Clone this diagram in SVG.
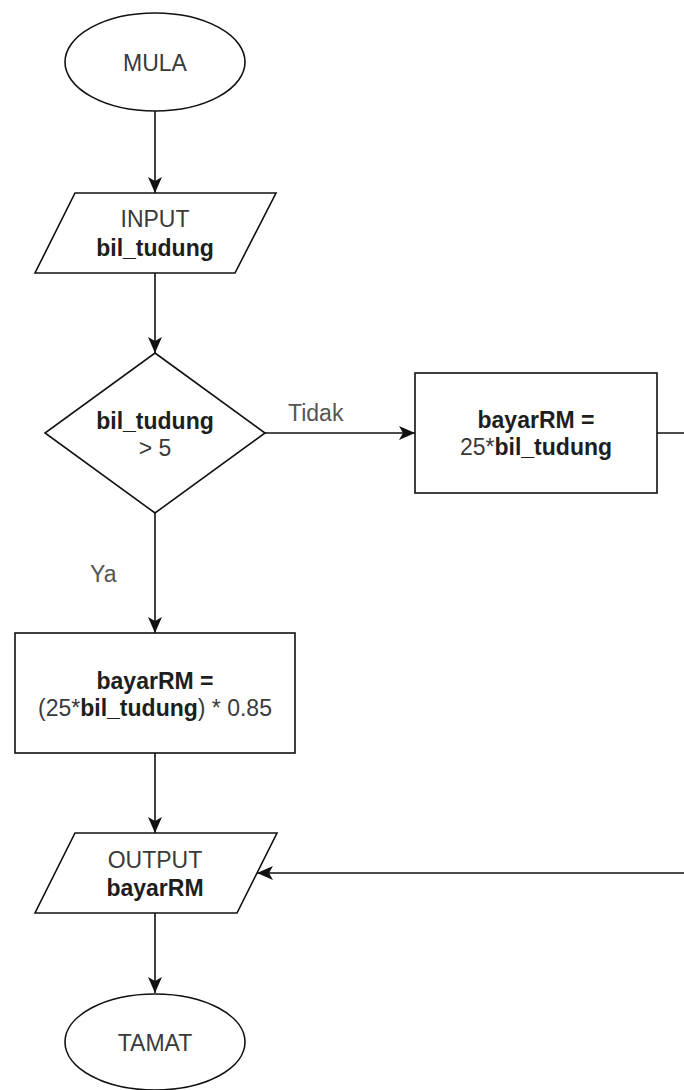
<svg xmlns="http://www.w3.org/2000/svg" width="684" height="1090" viewBox="0 0 684 1090">
<style>
.shape{fill:#ffffff;stroke:#111111;stroke-width:1.6}
.edge{fill:none;stroke:#111111;stroke-width:1.6}
text{font-family:"Liberation Sans",Arial,Helvetica,sans-serif;font-size:23px;text-anchor:middle;fill:#3a3a3a}
.b{font-weight:bold;fill:#1e1e1e}
.lbl{fill:#555555;text-anchor:start}
</style>
<defs>
<marker id="arr" markerUnits="userSpaceOnUse" markerWidth="16" markerHeight="14" viewBox="0 0 16 14" refX="16" refY="7" orient="auto">
<path d="M0,0 L16,7 L0,14 L4,7 Z" fill="#111111"/>
</marker>
</defs>
<rect width="684" height="1090" fill="#ffffff"/>
<g id="connectors">
<path class="edge" d="M155,111 V193" marker-end="url(#arr)"/>
<path class="edge" d="M155,273 V353" marker-end="url(#arr)"/>
<path class="edge" d="M265,433 H415" marker-end="url(#arr)"/>
<path class="edge" d="M155,513 V633" marker-end="url(#arr)"/>
<path class="edge" d="M155,753 V833" marker-end="url(#arr)"/>
<path class="edge" d="M155,913 V993" marker-end="url(#arr)"/>
<path class="edge" d="M657,433 H694 V873 H257" marker-end="url(#arr)"/>
<text class="lbl" x="288" y="421">Tidak</text>
<text class="lbl" x="90" y="582">Ya</text>
</g>
<g id="mula">
<ellipse class="shape" cx="155" cy="62" rx="90" ry="49"/>
<text x="155" y="71">MULA</text>
</g>
<g id="input">
<polygon class="shape" points="75,193 276,193 235,273 35,273"/>
<text x="155" y="227">INPUT</text>
<text class="b" x="155" y="256">bil_tudung</text>
</g>
<g id="decision">
<polygon class="shape" points="155,353 265,433 155,513 45,433"/>
<text class="b" x="155" y="429">bil_tudung</text>
<text x="155" y="456">&gt; 5</text>
</g>
<g id="bayar1">
<rect class="shape" x="415" y="373" width="242" height="120"/>
<text class="b" x="536" y="428">bayarRM =</text>
<text x="536" y="455"><tspan>25*</tspan><tspan class="b">bil_tudung</tspan></text>
</g>
<g id="bayar2">
<rect class="shape" x="15" y="633" width="280" height="120"/>
<text class="b" x="155" y="689">bayarRM =</text>
<text x="155" y="716"><tspan>(25*</tspan><tspan class="b">bil_tudung</tspan><tspan>) * 0.85</tspan></text>
</g>
<g id="output">
<polygon class="shape" points="75,833 277,833 237,913 35,913"/>
<text x="155" y="868">OUTPUT</text>
<text class="b" x="155" y="896">bayarRM</text>
</g>
<g id="tamat">
<ellipse class="shape" cx="155" cy="1042" rx="90" ry="48"/>
<text x="155" y="1051">TAMAT</text>
</g>
</svg>
